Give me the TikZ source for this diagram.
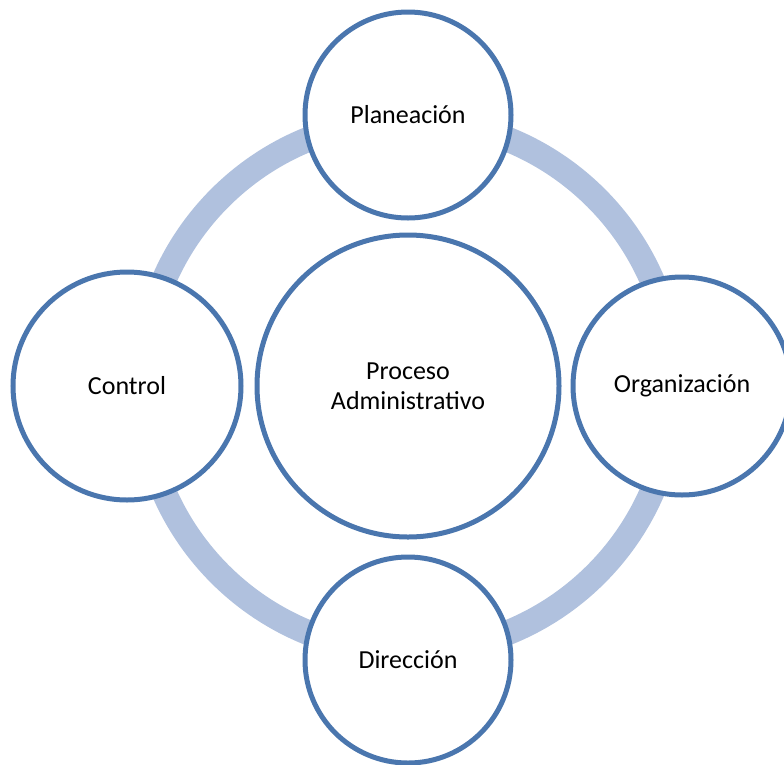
\documentclass[tikz,border=0pt]{standalone}
\usepackage{fontspec}
\setmainfont{Carlito}
\definecolor{ringc}{HTML}{B0C1DE}
\definecolor{edgec}{HTML}{4A76AE}
\begin{document}
\begin{tikzpicture}[x=1pt,y=-1pt,
  bub/.style={circle, draw=edgec, line width=5pt, fill=white, inner sep=0pt, align=center, font=\fontsize{26}{30}\selectfont}]
\useasboundingbox (0,0) rectangle (784,764);
\clip (0,0) rectangle (784,764);
\coordinate (c) at (408,386);
\draw[ringc, line width=25pt] (c) circle[radius=266];
\node[bub, minimum size=302pt] (proc) at (c) {Proceso\\Administrativo};
\node[bub, minimum size=206pt] (plan) at (408,115) {Planeación};
\node[bub, minimum size=228pt] (ctrl) at (127,386) {Control};
\node[bub, minimum size=218pt] (org) at (682,386) {Organización};
\node[bub, minimum size=206pt] (dir) at (408,660) {Dirección};
\end{tikzpicture}
\end{document}
